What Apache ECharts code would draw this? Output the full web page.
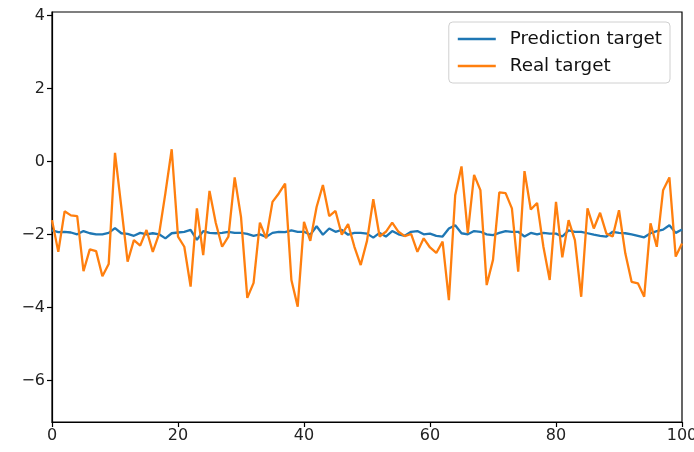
<!DOCTYPE html>
<html>
<head>
<meta charset="utf-8">
<script src="https://cdn.jsdelivr.net/npm/echarts@6/dist/echarts.min.js"></script>
<style>
html,body{margin:0;padding:0;background:#fff;}
#chart{width:694px;height:452px;}
</style>
</head>
<body>
<div id="chart"></div>
<script>
const seriesNames = ['Prediction target', 'Real target'];
const yTickValues = [-6, -4, -2, 0, 2, 4];
const xTickValues = [0, 20, 40, 60, 80, 100];

const predictionValues = [
  -1.88, -1.93, -1.92, -1.94, -1.99, -1.90, -1.96, -1.99, -1.99, -1.95,
  -1.82, -1.96, -1.98, -2.03, -1.95, -1.99, -1.96, -1.99, -2.10, -1.96,
  -1.94, -1.92, -1.87, -2.14, -1.90, -1.95, -1.96, -1.95, -1.92, -1.95,
  -1.95, -1.98, -2.03, -1.99, -2.06, -1.95, -1.92, -1.93, -1.88, -1.92,
  -1.92, -2.00, -1.77, -2.00, -1.83, -1.92, -1.87, -2.00, -1.95, -1.95,
  -1.97, -2.08, -1.95, -2.05, -1.90, -1.99, -2.03, -1.92, -1.90, -1.99,
  -1.97, -2.03, -2.05, -1.83, -1.74, -1.96, -1.99, -1.90, -1.92, -1.99,
  -2.01, -1.95, -1.90, -1.92, -1.92, -2.05, -1.95, -1.99, -1.95, -1.97,
  -1.97, -2.05, -1.88, -1.92, -1.92, -1.96, -2.00, -2.03, -2.05, -1.92,
  -1.95, -1.96, -1.99, -2.03, -2.07, -1.96, -1.90, -1.86, -1.74, -1.95,
  -1.86
];

const realValues = [
  -1.60, -2.47, -1.36, -1.47, -1.49, -3.00, -2.40, -2.45, -3.14, -2.80,
   0.24, -1.24, -2.74, -2.15, -2.30, -1.87, -2.47, -1.98, -0.86,  0.34,
  -2.05, -2.33, -3.42, -1.28, -2.56, -0.80, -1.68, -2.33, -2.05, -0.43,
  -1.51, -3.73, -3.32, -1.67, -2.10, -1.10, -0.87, -0.60, -3.24, -3.97,
  -1.65, -2.17, -1.24, -0.64, -1.49, -1.35, -2.00, -1.71, -2.33, -2.83,
  -2.17, -1.03, -2.05, -1.92, -1.67, -1.92, -2.04, -1.98, -2.47, -2.10,
  -2.35, -2.50, -2.19, -3.79, -0.92, -0.13, -1.96, -0.36, -0.78, -3.38,
  -2.69, -0.84, -0.86, -1.28, -3.01, -0.26, -1.31, -1.13, -2.33, -3.24,
  -1.10, -2.62, -1.60, -2.15, -3.70, -1.28, -1.83, -1.40, -1.97, -2.05,
  -1.33, -2.51, -3.29, -3.33, -3.70, -1.69, -2.33, -0.78, -0.43, -2.60,
  -2.24
];

const toPairs = arr => arr.map((v, i) => [i, v]);
const fmt = v => String(v).replace('-', '\u2212');
const FONT = 'DejaVu Sans';

const chart = echarts.init(document.getElementById('chart'), null, {renderer: 'canvas'});
chart.setOption({
  animation: false,
  backgroundColor: '#ffffff',
  textStyle: {fontFamily: FONT},
  grid: {
    left: 52, right: 12, top: 12, bottom: 30,
    containLabel: false,
    outerBoundsMode: 'none',
    show: true, borderColor: '#000', borderWidth: 1.2, backgroundColor: 'transparent'
  },
  legend: {
    orient: 'vertical',
    right: 24, top: 22,
    data: seriesNames,
    icon: 'rect',
    itemWidth: 38, itemHeight: 2.4,
    itemGap: 9,
    padding: [8, 8, 8, 9],
    backgroundColor: 'rgba(255,255,255,0.8)',
    borderColor: '#d0d0d0', borderWidth: 1, borderRadius: 4,
    textStyle: {fontFamily: FONT, fontSize: 18.3, color: '#111', padding: [0, 0, 0, 9]}
  },
  xAxis: {
    type: 'value', min: 0, max: 100, interval: 20,
    axisLine: {show: true, onZero: false, lineStyle: {color: '#000', width: 1.2}},
    axisTick: {show: true, length: 5, lineStyle: {color: '#000', width: 1.2}, customValues: xTickValues},
    axisLabel: {fontFamily: FONT, fontSize: 16, color: '#222', margin: 6, customValues: xTickValues, formatter: fmt},
    splitLine: {show: false}
  },
  yAxis: {
    type: 'value', min: -7.13, max: 4.1,
    axisLine: {show: true, onZero: false, lineStyle: {color: '#000', width: 1.2}},
    axisTick: {show: true, length: 5, lineStyle: {color: '#000', width: 1.2}, customValues: yTickValues},
    axisLabel: {fontFamily: FONT, fontSize: 16, color: '#222', margin: 7, customValues: yTickValues, formatter: fmt},
    splitLine: {show: false}
  },
  series: [
    {
      name: seriesNames[0], type: 'line', data: toPairs(predictionValues),
      showSymbol: false, symbol: 'none', color: '#1f77b4',
      lineStyle: {width: 2.3, color: '#1f77b4'}, z: 2
    },
    {
      name: seriesNames[1], type: 'line', data: toPairs(realValues),
      showSymbol: false, symbol: 'none', color: '#ff7f0e',
      lineStyle: {width: 2.3, color: '#ff7f0e'}, z: 3
    }
  ]
});
</script>
</body>
</html>
